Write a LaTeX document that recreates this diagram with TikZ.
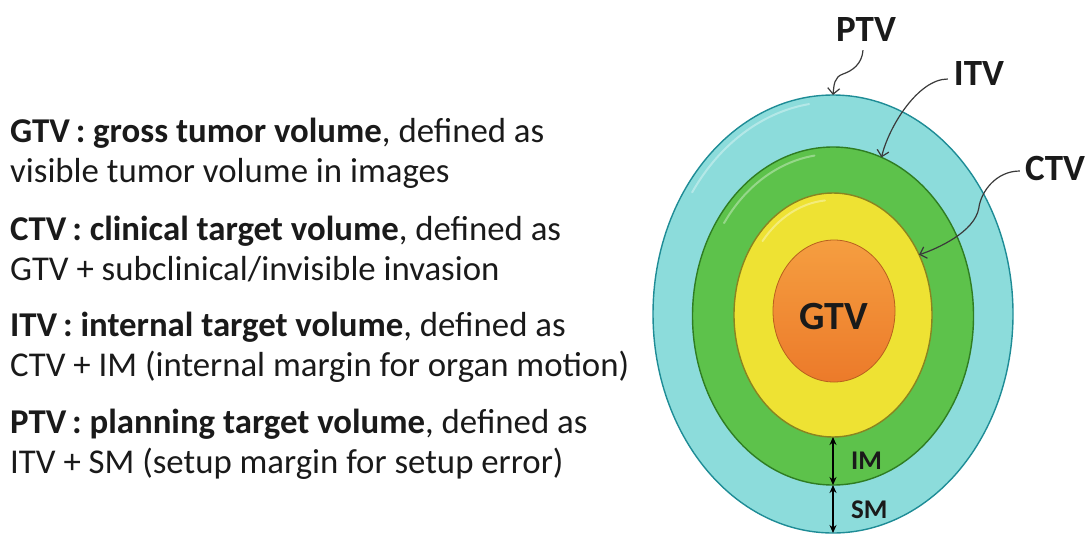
\documentclass[tikz,border=0pt]{standalone}
\usepackage{fontspec}
\setmainfont{Carlito}
\usetikzlibrary{shapes.geometric,arrows.meta}
\definecolor{txt}{HTML}{1A1A1A}
\definecolor{ptr}{HTML}{3A3A3A}
\definecolor{cyanF}{HTML}{8CDCDB}
\definecolor{cyanD}{HTML}{1E8C96}
\definecolor{greenF}{HTML}{5DC24B}
\definecolor{greenD}{HTML}{2F7D22}
\definecolor{yelF}{HTML}{EEE233}
\definecolor{yelD}{HTML}{8A8420}
\definecolor{orT}{HTML}{F59E40}
\definecolor{orB}{HTML}{EC7A2A}
\definecolor{orD}{HTML}{B8601E}
\begin{document}
\begin{tikzpicture}[x=1pt,y=-1pt,
  desc/.style={anchor=base west,inner sep=0pt,font=\fontsize{34.8}{40}\selectfont,text=txt},
  ring/.style={ellipse,inner sep=0pt,outer sep=0pt,line width=1.4pt},
  lab/.style={font=\fontsize{37}{40}\selectfont\bfseries,text=txt,inner sep=0pt},
  marg/.style={font=\fontsize{27}{30}\selectfont\bfseries,text=txt,inner sep=0pt,anchor=west},
  pointer/.style={draw=ptr,line width=1.2pt,-{Straight Barb[length=6pt,width=12pt]}},
  gap/.style={draw=black,line width=1.6pt,{Stealth[length=8pt,width=7pt]}-{Stealth[length=8pt,width=7pt]}},
  hl/.style={draw=white,opacity=0.35,line width=2pt,line cap=round}]
\useasboundingbox (0,0) rectangle (1092,536);

% description texts
\node[desc] (g1) at (10,142) {\textbf{GTV\,:\ gross tumor volume}, defined as};
\node[desc] (g2) at (10,182) {visible tumor volume in images};
\node[desc] (c1) at (10,240) {\textbf{CTV\,:\ clinical target volume}, defined as};
\node[desc] (c2) at (10,280) {GTV + subclinical/invisible invasion};
\node[desc] (i1) at (10,336) {\textbf{ITV\,:\ internal target volume}, defined as};
\node[desc] (i2) at (10,376) {CTV + IM (internal margin for organ motion)};
\node[desc] (p1) at (10,433) {\textbf{PTV\,:\ planning target volume}, defined as};
\node[desc] (p2) at (10,473) {ITV + SM (setup margin for setup error)};

% nested volumes
\node[ring,draw=cyanD,fill=cyanF,minimum width=360pt,minimum height=438pt] (ptvE) at (833,314) {};
\draw[hl] ([shift={(215:172 and 212)}]ptvE.center) arc[start angle=215,end angle=262,x radius=172,y radius=212];
\node[ring,draw=greenD,fill=greenF,minimum width=281pt,minimum height=338pt] (itvE) at (833,316) {};
\draw[hl] ([shift={(215:133 and 162)}]itvE.center) arc[start angle=215,end angle=262,x radius=133,y radius=162];
\node[ring,draw=yelD,fill=yelF,minimum width=198pt,minimum height=244pt] (ctvE) at (833,315) {};
\draw[hl] ([shift={(220:92 and 115)}]ctvE.center) arc[start angle=220,end angle=265,x radius=92,y radius=115];
\node[ring,draw=orD,line width=0.8pt,top color=orT,bottom color=orB,minimum width=122pt,minimum height=142pt] (gtvE) at (834,311) {};
\node[font=\fontsize{40}{44}\selectfont\bfseries,text=txt,inner sep=0pt] (gtvL) at (834,317) {GTV};

% labels
\node[lab] (ptvL) at (866,30) {PTV};
\node[lab] (itvL) at (979,74) {ITV};
\node[lab] (ctvL) at (1055,168) {CTV};

% pointers
\draw[pointer] ([shift={(-3,8)}]ptvL.south) .. controls +(-1,14) and +(9,-3) .. ([shift={(10,-21)}]ptvE.north) .. controls +(-9,3) and +(1,-10) .. (ptvE.north);
\draw[pointer] ([shift={(-6,5)}]itvL.west) .. controls +(-30,0) and +(7,-30) .. (itvE.73);
\draw[pointer] ([shift={(-5,3)}]ctvL.west) .. controls +(-24,0) and +(2,-16) .. ([shift={(-46,40)}]ctvL.west) .. controls +(-4,24) and +(18,-6) .. (ctvE.35);

% margins
\draw[gap] (ctvE.south) -- (itvE.south);
\draw[gap] (itvE.south) -- (ptvE.south);
\node[marg] (imL) at (851,461) {IM};
\node[marg] (smL) at (851,510) {SM};
\end{tikzpicture}
\end{document}
